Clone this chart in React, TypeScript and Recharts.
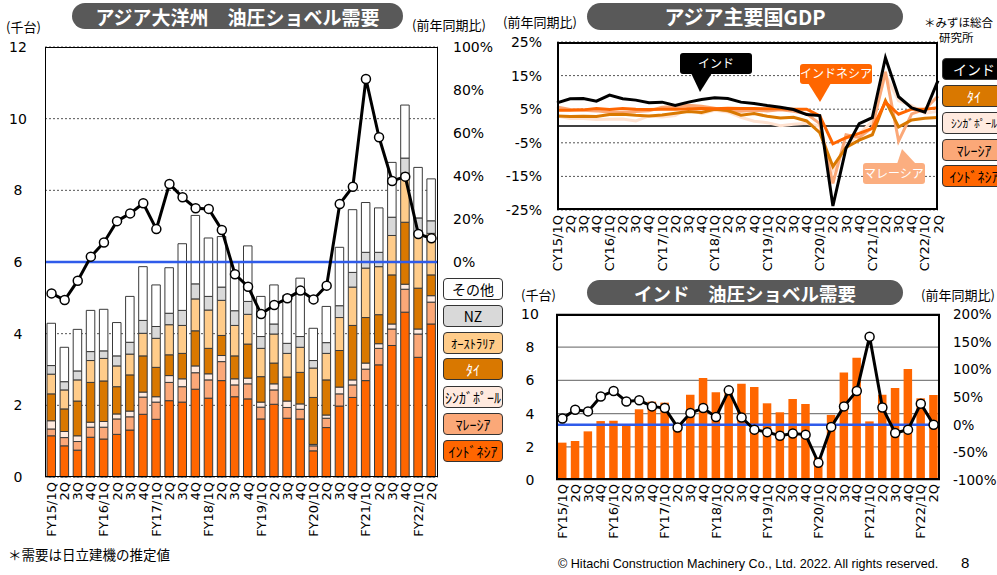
import React from 'react';
import { ComposedChart, Bar, Line, XAxis, YAxis, CartesianGrid, ReferenceLine } from 'recharts';

const FONT_NUM = '"DejaVu Sans", "Noto Sans CJK JP", sans-serif';
const FONT_JP = '"Noto Sans CJK JP", sans-serif';

// 四半期ラベル
const fyQuarters = [
  'FY15/1Q', '2Q', '3Q', '4Q', 'FY16/1Q', '2Q', '3Q', '4Q', 'FY17/1Q', '2Q', '3Q', '4Q',
  'FY18/1Q', '2Q', '3Q', '4Q', 'FY19/1Q', '2Q', '3Q', '4Q', 'FY20/1Q', '2Q', '3Q', '4Q',
  'FY21/1Q', '2Q', '3Q', '4Q', 'FY22/1Q', '2Q',
];
const cyQuarters = [
  'CY15/1Q', '2Q', '3Q', '4Q', 'CY16/1Q', '2Q', '3Q', '4Q', 'CY17/1Q', '2Q', '3Q', '4Q',
  'CY18/1Q', '2Q', '3Q', '4Q', 'CY19/1Q', '2Q', '3Q', '4Q', 'CY20/1Q', '2Q', '3Q', '4Q',
  'CY21/1Q', '2Q', '3Q', '4Q', 'CY22/1Q', '2Q',
];

// アジア大洋州 油圧ショベル需要（千台）
const indonesia = [1.15, 0.87, 0.75, 1.11, 1.06, 1.19, 1.31, 1.75, 1.61, 2.13, 2.09, 2.45, 2.2, 2.69, 2.24, 2.18, 1.62, 2.03, 1.64, 1.62, 0.73, 1.38, 1.98, 2.22, 2.69, 3.13, 3.67, 4.6, 3.34, 4.27];
const malaysia = [0.19, 0.23, 0.24, 0.28, 0.33, 0.43, 0.37, 0.48, 0.48, 0.51, 0.43, 0.46, 0.51, 0.53, 0.33, 0.42, 0.33, 0.4, 0.3, 0.27, 0.14, 0.26, 0.34, 0.35, 0.32, 0.46, 0.46, 0.64, 0.65, 0.61];
const singapore = [0.23, 0.17, 0.16, 0.14, 0.16, 0.14, 0.16, 0.14, 0.15, 0.19, 0.22, 0.19, 0.17, 0.17, 0.17, 0.16, 0.14, 0.17, 0.18, 0.15, 0.04, 0.09, 0.19, 0.14, 0.17, 0.13, 0.14, 0.14, 0.14, 0.18];
const thailand = [0.75, 0.63, 0.97, 1.11, 1.13, 0.76, 1.01, 1.01, 0.82, 0.58, 0.71, 0.98, 0.71, 0.56, 0.64, 0.95, 0.71, 0.58, 0.67, 0.88, 1.31, 0.98, 1.02, 1.52, 1.27, 0.81, 1.37, 1.73, 1.14, 0.58];
const australia = [0.55, 0.53, 0.59, 0.61, 0.63, 0.58, 0.58, 0.63, 0.81, 0.84, 0.78, 0.89, 1.07, 0.98, 0.85, 0.83, 0.79, 0.81, 0.66, 0.7, 0.82, 0.74, 0.92, 1.07, 1.38, 1.34, 1.1, 1.37, 1.44, 1.16];
const newZealand = [0.24, 0.23, 0.25, 0.25, 0.21, 0.28, 0.33, 0.36, 0.33, 0.32, 0.42, 0.42, 0.38, 0.37, 0.41, 0.36, 0.33, 0.28, 0.28, 0.3, 0.21, 0.3, 0.33, 0.41, 0.44, 0.4, 0.51, 0.42, 0.52, 0.35];
const others = [1.18, 0.96, 1.16, 1.15, 1.16, 0.93, 1.28, 1.5, 1.16, 1.27, 1.86, 1.91, 1.63, 1.41, 1.35, 1.55, 1.12, 1.09, 1.34, 1.63, 0.9, 1.01, 1.63, 1.75, 1.39, 1.24, 1.53, 1.48, 1.41, 1.17];
const asiaYoY = [-14.6, -17.7, -8.7, 2.5, 9.1, 19, 22.6, 27.3, 15.3, 36.3, 30.1, 25, 24.7, 14.9, -5.7, -11.5, -24.2, -20, -16.9, -13.3, -17.4, -11, 27, 35, 85.1, 58, 37.7, 39.7, 13, 11];

// アジア主要国GDP（前年同期比 %）
const gdpIndia = [6.9, 8.1, 8.2, 7.4, 9.2, 8.1, 7.7, 6.9, 7.1, 6.1, 7.1, 7.9, 8.4, 8.2, 7.1, 6.7, 6.1, 5.6, 4.9, 3.4, 3.1, -23.8, -6.6, 0.7, 2.5, 20.3, 8.7, 5.4, 4.1, 13.5];
const gdpThailand = [3.0, 2.8, 2.9, 2.8, 3.4, 3.5, 3.2, 3.0, 3.3, 3.8, 4.3, 4.0, 5.0, 4.6, 3.2, 3.7, 2.9, 2.4, 2.6, 1.5, -2.0, -12.1, -6.4, -4.2, -2.6, 7.5, -0.3, 1.8, 2.3, 2.5];
const gdpSingapore = [3.0, 2.2, 2.2, 1.9, 2.0, 2.1, 1.5, 3.0, 2.7, 3.1, 5.3, 3.7, 4.7, 4.2, 2.6, 1.4, 1.0, 0.1, 0.5, 0.8, -0.1, -13.3, -5.8, -2.4, 1.5, 15.2, 7.5, 6.1, 3.8, 4.4];
const gdpMalaysia = [5.7, 4.9, 4.7, 4.5, 4.1, 4.0, 4.3, 4.5, 5.6, 5.8, 6.2, 5.9, 5.3, 4.5, 4.4, 4.7, 4.5, 4.8, 4.4, 3.6, 0.7, -17.1, -2.6, -3.4, -0.5, 16.1, -4.5, 3.6, 5.0, 8.9];
const gdpIndonesia = [4.7, 4.7, 4.8, 5.2, 4.9, 5.2, 5.0, 4.9, 5.0, 5.0, 5.1, 5.2, 5.1, 5.3, 5.2, 5.2, 5.1, 5.1, 5.0, 5.0, 3.0, -5.3, -3.5, -2.2, -0.7, 7.1, 3.5, 5.0, 5.0, 5.4];

// インド 油圧ショベル需要（千台）と前年同期比
const indiaDemand = [2.25, 2.35, 2.93, 3.55, 3.57, 3.35, 4.26, 4.72, 4.66, 3.2, 5.14, 6.14, 5.28, 5.45, 5.8, 5.6, 4.62, 4.08, 4.88, 4.58, 1.35, 3.92, 6.47, 7.37, 3.53, 5.14, 5.54, 6.69, 4.92, 5.12];
const indiaYoY = [11, 27, 24, 51, 61, 42, 44, 33, 30, -5, 21, 30, 14, 62, 13, -9, -13.5, -20, -16, -18, -69, -4, 33, 61, 159, 31, -15, -9, 38, 0];

const asiaTicks = [0, 2, 4, 6, 8, 10, 12];
const asiaPctTicks = [0, 20, 40, 60, 80, 100];
const gdpTicks = [-25, -15, -5, 5, 15, 25];
const indiaTicks = [0, 2, 4, 6, 8, 10];
const indiaPctTicks = [-100, -50, 0, 50, 100, 150, 200];

const asiaData = fyQuarters.map((label, i) => ({
  label,
  indonesia: indonesia[i],
  malaysia: malaysia[i],
  singapore: singapore[i],
  thailand: thailand[i],
  australia: australia[i],
  newZealand: newZealand[i],
  others: others[i],
  yoy: asiaYoY[i],
}));

const gdpData = cyQuarters.map((label, i) => ({
  label,
  india: gdpIndia[i],
  thailand: gdpThailand[i],
  singapore: gdpSingapore[i],
  malaysia: gdpMalaysia[i],
  indonesia: gdpIndonesia[i],
}));

const indiaData = fyQuarters.map((label, i) => ({ label, demand: indiaDemand[i], yoy: indiaYoY[i] }));

const asiaSeries = [
  { key: 'indonesia', name: 'ｲﾝﾄﾞﾈｼｱ', fill: '#FF6600', text: '#000' },
  { key: 'malaysia', name: 'ﾏﾚｰｼｱ', fill: '#FBA878', text: '#000' },
  { key: 'singapore', name: 'ｼﾝｶﾞﾎﾟｰﾙ', fill: '#FFEADF', text: '#000' },
  { key: 'thailand', name: 'ﾀｲ', fill: '#D97800', text: '#fff' },
  { key: 'australia', name: 'ｵｰｽﾄﾗﾘｱ', fill: '#FFCC8A', text: '#000' },
  { key: 'newZealand', name: 'NZ', fill: '#D9D9D9', text: '#000' },
  { key: 'others', name: 'その他', fill: '#FFFFFF', text: '#000' },
];

const gdpSeries = [
  { key: 'singapore', name: 'ｼﾝｶﾞﾎﾟｰﾙ', color: '#FFE2D0', text: '#000' },
  { key: 'malaysia', name: 'ﾏﾚｰｼｱ', color: '#FBA878', text: '#000' },
  { key: 'thailand', name: 'ﾀｲ', color: '#D97800', text: '#fff' },
  { key: 'indonesia', name: 'ｲﾝﾄﾞﾈｼｱ', color: '#FF6600', text: '#000' },
  { key: 'india', name: 'インド', color: '#000000', text: '#fff' },
];

const catTick = (props: any) => {
  const { x, y, payload } = props;
  return (
    <text transform={`translate(${x + 4.5},${y}) rotate(-90)`} textAnchor="end" fontSize={13} fontFamily={FONT_NUM} fill="#000">
      {payload.value}
    </text>
  );
};

const valTick = (dx: number, anchor: 'start' | 'middle' | 'end', fmt: (v: number) => string, size = 14) => (props: any) => (
  <text x={props.x + dx} y={props.y} dy="0.36em" textAnchor={anchor} fontSize={size} fontFamily={FONT_NUM} fill="#000">
    {fmt(props.payload.value)}
  </text>
);

const num = (v: number) => String(v);
const pct = (v: number) => `${v}%`;

const Pill = ({ left, top, width, height, size, children }: any) => (
  <div
    style={{
      position: 'absolute', left, top, width, height, background: '#595959', color: '#fff',
      borderRadius: height / 2, fontFamily: FONT_JP, fontWeight: 700, fontSize: size,
      display: 'flex', alignItems: 'center', justifyContent: 'center', whiteSpace: 'pre',
    }}
  >
    {children}
  </div>
);

const Label = ({ left, top, size = 13, family = FONT_JP, children }: any) => (
  <div style={{ position: 'absolute', left, top, fontSize: size, fontFamily: family, color: '#000', whiteSpace: 'nowrap', lineHeight: 1.1 }}>
    {children}
  </div>
);

const Box = ({ left, top, width, fill, text, size = 14, children }: any) => (
  <div
    style={{
      position: 'absolute', left, top, width, height: 22, boxSizing: 'border-box', background: fill, color: text,
      border: '1.5px solid #333', borderRadius: 4, fontFamily: FONT_JP, fontSize: size,
      display: 'flex', alignItems: 'center', justifyContent: 'center', whiteSpace: 'nowrap', overflow: 'hidden',
    }}
  >
    {children}
  </div>
);

const Frame = ({ left, top, width, height, w = 1.5 }: any) => (
  <div style={{ position: 'absolute', left, top, width, height, boxSizing: 'border-box', border: `${w}px solid #000`, pointerEvents: 'none' }} />
);

const asiaLegendTops = [440, 413, 386, 358, 332, 305, 278];
const gdpLegendTops = [112, 139, 85, 165, 58];

export default function App() {
  return (
    <div style={{ position: 'absolute', left: 0, top: 0, width: 997, height: 575, background: '#fff', overflow: 'hidden' }}>
      {/* アジア大洋州 */}
      <div style={{ position: 'absolute', left: 0, top: 0 }}>
        <ComposedChart width={510} height={545} data={asiaData} margin={{ top: 47, right: 0, bottom: 0, left: 0 }} barSize={8.5}>
          <CartesianGrid yAxisId="left" vertical={false} stroke="#555" strokeDasharray="2 2" />
          <XAxis dataKey="label" interval={0} height={68} axisLine={false} tickLine={false} tickSize={0} tickMargin={5} tick={catTick} />
          <YAxis yAxisId="left" domain={[0, 12]} ticks={asiaTicks} interval={0} width={45} axisLine={false} tickLine={false} tickSize={0} tickMargin={0} tick={valTick(-27, 'middle', num)} />
          <YAxis yAxisId="pct" orientation="right" domain={[-100, 100]} ticks={asiaPctTicks} interval={0} width={72} axisLine={false} tickLine={false} tickSize={0} tickMargin={0} tick={valTick(15, 'start', pct)} />
          {asiaSeries.map((s) => (
            <Bar key={s.key} yAxisId="left" dataKey={s.key} stackId="a" fill={s.fill} stroke="#3a3a3a" strokeWidth={1} isAnimationActive={false} />
          ))}
          <ReferenceLine yAxisId="pct" y={0} stroke="#2F5BEA" strokeWidth={2.5} />
          <Line yAxisId="pct" dataKey="yoy" stroke="#000" strokeWidth={3} dot={{ r: 4.5, fill: '#fff', stroke: '#000', strokeWidth: 1.5 }} isAnimationActive={false} />
        </ComposedChart>
      </div>
      <Frame left={45} top={47} width={393} height={430} />

      {/* アジア主要国GDP */}
      <div style={{ position: 'absolute', left: 505, top: 0 }}>
        <ComposedChart width={440} height={290} data={gdpData} margin={{ top: 42, right: 7, bottom: 0, left: 0 }}>
          <CartesianGrid vertical={false} stroke="#555" strokeDasharray="2 2" />
          <XAxis dataKey="label" interval={0} height={80} axisLine={false} tickLine={false} tickSize={0} tickMargin={5} tick={catTick} />
          <YAxis domain={[-25, 25]} ticks={gdpTicks} interval={0} width={52} axisLine={false} tickLine={false} tickSize={0} tickMargin={0} tick={valTick(-15, 'end', pct)} />
          <ReferenceLine y={0} stroke="#000" strokeWidth={1.5} />
          {gdpSeries.map((s) => (
            <Line key={s.key} dataKey={s.key} stroke={s.color} strokeWidth={3} dot={false} isAnimationActive={false} />
          ))}
        </ComposedChart>
      </div>
      <Frame left={557} top={42} width={381} height={168} w={2} />

      {/* インド */}
      <div style={{ position: 'absolute', left: 505, top: 280 }}>
        <ComposedChart width={492} height={265} data={indiaData} margin={{ top: 34, right: 0, bottom: 0, left: 0 }} barSize={8.5}>
          <CartesianGrid yAxisId="left" vertical={false} stroke="#808080" strokeWidth={1.2} />
          <XAxis dataKey="label" interval={0} height={65} axisLine={false} tickLine={false} tickSize={0} tickMargin={4} tick={catTick} />
          <YAxis yAxisId="left" domain={[0, 10]} ticks={indiaTicks} interval={0} width={51} axisLine={false} tickLine={false} tickSize={0} tickMargin={0} tick={valTick(-26, 'middle', num)} />
          <YAxis yAxisId="pct" orientation="right" domain={[-100, 200]} ticks={indiaPctTicks} interval={0} width={57} axisLine={false} tickLine={false} tickSize={0} tickMargin={0} tick={valTick(13, 'start', pct, 13.5)} />
          <Bar yAxisId="left" dataKey="demand" fill="#FF6600" isAnimationActive={false} />
          <ReferenceLine yAxisId="pct" y={0} stroke="#2F5BEA" strokeWidth={2.5} />
          <Line yAxisId="pct" dataKey="yoy" stroke="#000" strokeWidth={3} dot={{ r: 4.5, fill: '#fff', stroke: '#000', strokeWidth: 1.5 }} isAnimationActive={false} />
        </ComposedChart>
      </div>
      <Frame left={556} top={314} width={384} height={166} w={2} />

      {/* callouts */}
      <svg width={997} height={575} style={{ position: 'absolute', left: 0, top: 0, pointerEvents: 'none' }}>
        <rect x={680} y={53} width={72} height={21} rx={3} fill="#000" />
        <polygon points="691,73 712,73 700,92" fill="#000" />
        <text x={716} y={64} dy="0.36em" textAnchor="middle" fontSize={12} fontFamily={FONT_JP} fill="#fff">インド</text>
        <rect x={800} y={64} width={72} height={20} rx={3} fill="#FF6600" />
        <polygon points="808,83 831,83 820,102" fill="#FF6600" />
        <text x={836} y={74} dy="0.36em" textAnchor="middle" fontSize={12} fontFamily={FONT_JP} fill="#fff">インドネシア</text>
        <rect x={863} y={163} width={62} height={21} rx={3} fill="#FBAE80" />
        <polygon points="897,164 916,164 902,149" fill="#FBAE80" />
        <text x={894} y={174} dy="0.36em" textAnchor="middle" fontSize={12} fontFamily={FONT_JP} fill="#fff">マレーシア</text>
      </svg>

      {/* titles */}
      <Pill left={72} top={3} width={331} height={26} size={19}>{'アジア大洋州　油圧ショベル需要'}</Pill>
      <Pill left={587} top={3} width={316} height={27} size={20}>アジア主要国GDP</Pill>
      <Pill left={587} top={280} width={316} height={25} size={18.5}>{'インド　油圧ショベル需要'}</Pill>

      {/* axis captions */}
      <Label left={6} top={20}>(千台)</Label>
      <Label left={412} top={18}>(前年同期比)</Label>
      <Label left={503} top={15}>(前年同期比)</Label>
      <Label left={924} top={16} size={11.5}>＊みずほ総合</Label>
      <Label left={939} top={31} size={11.5}>研究所</Label>
      <Label left={521} top={288}>(千台)</Label>
      <Label left={921} top={288}>(前年同期比)</Label>

      {/* legends */}
      {asiaSeries.map((s, i) => (
        <Box key={s.key} left={443} top={asiaLegendTops[i]} width={60} fill={s.fill} text={s.text} size={s.key === 'australia' ? 12.5 : 14}>
          {s.name}
        </Box>
      ))}
      {gdpSeries.map((s, i) => (
        <Box key={s.key} left={942} top={gdpLegendTops[i]} width={64} fill={s.key === 'singapore' ? '#FFEADF' : s.color} text={s.text} size={s.key === 'singapore' ? 11.5 : 14}>
          {s.name}
        </Box>
      ))}

      {/* footer */}
      <Label left={8} top={547} size={13.5}>＊需要は日立建機の推定値</Label>
      <Label left={558} top={558} size={12.6} family='"Liberation Sans", Arial, sans-serif'>
        © Hitachi Construction Machinery Co., Ltd. 2022. All rights reserved.
      </Label>
      <Label left={961} top={555} size={15} family='"Liberation Sans", Arial, sans-serif'>8</Label>
    </div>
  );
}
